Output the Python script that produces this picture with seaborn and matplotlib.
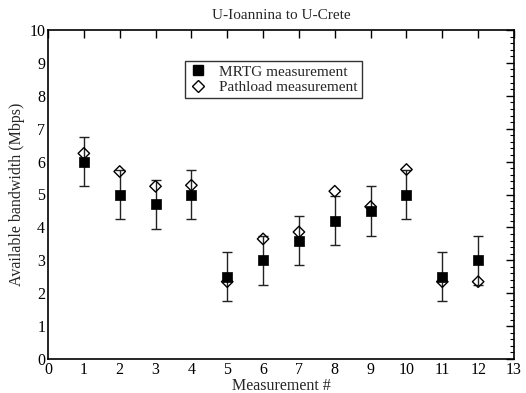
import matplotlib
matplotlib.use("Agg")
import matplotlib.pyplot as plt
from matplotlib.lines import Line2D
from matplotlib.ticker import MultipleLocator
import seaborn as sns
import pandas as pd

measurement = [1, 2, 3, 4, 5, 6, 7, 8, 9, 10, 11, 12]
mrtg = [6.0, 5.0, 4.7, 5.0, 2.5, 3.0, 3.6, 4.2, 4.5, 5.0, 2.5, 3.0]
mrtg_err = [0.75] * 12
pathload = [6.25, 5.7, 5.25, 5.28, 2.35, 3.65, 3.86, 5.1, 4.63, 5.76, 2.35, 2.35]

sns.set_theme(style="white")
plt.rcParams["font.family"] = ["Liberation Serif", "DejaVu Serif"]

df = pd.DataFrame({"m": measurement, "mrtg": mrtg, "err": mrtg_err, "pathload": pathload})

fig = plt.figure(figsize=(5.26, 3.93), dpi=100)
ax = fig.add_axes([48 / 526, 1 - 359 / 393, 466 / 526, 329 / 393])

ax.errorbar(df["m"], df["mrtg"], yerr=df["err"], fmt="none", ecolor="#222222",
            elinewidth=1.0, capsize=3.6, capthick=1.0, zorder=2)
sns.scatterplot(data=df, x="m", y="mrtg", marker="s", s=60, color="black",
                edgecolor="black", linewidth=0.5, ax=ax, zorder=3, legend=False)
sns.scatterplot(data=df, x="m", y="pathload", marker="D", s=34, facecolor="none",
                edgecolor="black", linewidth=1.0, ax=ax, zorder=4, legend=False)

ax.set_xlim(0, 13)
ax.set_ylim(0, 10)
ax.xaxis.set_major_locator(MultipleLocator(1))
ax.yaxis.set_major_locator(MultipleLocator(1))
ax.yaxis.set_minor_locator(MultipleLocator(0.2))
ax.tick_params(axis="both", which="both", direction="in", top=True, right=True,
               labelsize=11.5, colors="black", pad=2)
ax.tick_params(axis="both", which="major", length=6, width=1)
ax.tick_params(axis="y", which="minor", length=3, width=0.8)
for sp in ax.spines.values():
    sp.set_color("black")
    sp.set_linewidth(1.2)

ax.set_xlabel("Measurement #", fontsize=11.5, labelpad=0)
ax.set_ylabel("Available bandwidth (Mbps)", fontsize=11.5, labelpad=3)
ax.set_title("U-Ioannina to U-Crete", fontsize=11, pad=8)

handles = [
    Line2D([], [], marker="s", linestyle="none", color="black", markersize=7.5),
    Line2D([], [], marker="D", linestyle="none", markerfacecolor="none",
           markeredgecolor="black", markersize=6.0, markeredgewidth=1.0),
]
leg = ax.legend(handles, ["MRTG measurement", "Pathload measurement"],
                loc="upper left", bbox_to_anchor=(0.294, 0.905), fontsize=11,
                frameon=True, fancybox=False, handlelength=1.2, handletextpad=0.8,
                borderpad=0.25, labelspacing=0.1, borderaxespad=0)
leg.get_frame().set_edgecolor("black")
leg.get_frame().set_linewidth(1.0)

fig.savefig("out.png", dpi=100)
